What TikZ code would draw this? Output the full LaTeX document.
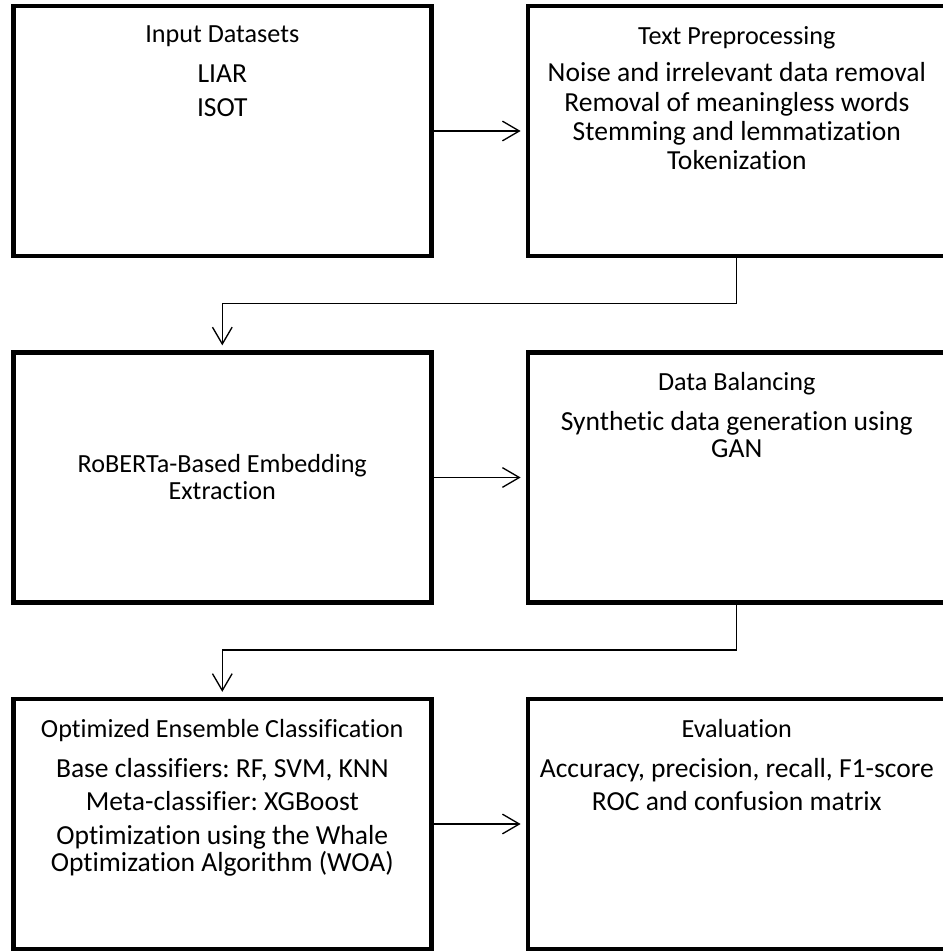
\documentclass[tikz,border=0pt]{standalone}
\usepackage{fontspec}
\setmainfont{Carlito}[Ligatures=NoCommon]
\usetikzlibrary{positioning,arrows.meta}
\frenchspacing
\newcommand{\stagetitle}[1]{{\fontsize{18.6pt}{19.2pt}\selectfont #1}}

\begin{document}
\begin{tikzpicture}[
    stage/.style={draw, line width=3.2pt, minimum width=10.45cm, minimum height=6.25cm, inner sep=0pt},
    body/.style={align=center, inner sep=0pt, font=\fontsize{19.6pt}{19.2pt}\selectfont},
    flow/.style={line width=0.95pt, -{Straight Barb[length=12pt,width=14pt]}, shorten >=3.5pt},
    node distance=2.3cm]
    \useasboundingbox (-5.5575,3.275) rectangle (18.0175,-20.5);
    % the six stages
    \node [stage] (input) at (0,0) {};
    \node [stage, right=of input] (prep) {};
    \node [stage, below=of input] (embed) {};
    \node [stage, right=of embed] (balance) {};
    \node [stage, below=of embed] (ensemble) {};
    \node [stage, right=of ensemble] (eval) {};
    % texts
    \node [body, below=0.55cm of input.north] (inputtxt) {\stagetitle{Input Datasets}\\[9.3pt] LIAR\\[4.6pt] ISOT};
    \node [body, below=0.55cm of prep.north] (preptxt) {\stagetitle{Text Preprocessing}\\[7.8pt] Noise and irrelevant data removal\\[1.6pt] Removal of meaningless words\\[1.6pt] Stemming and lemmatization\\[1.6pt] Tokenization};
    \node [body] (embedtxt) at (embed.center) {\stagetitle{RoBERTa-Based Embedding}\\ \stagetitle{Extraction}};
    \node [body, below=0.55cm of balance.north] (balancetxt) {\stagetitle{Data Balancing}\\[9.3pt] Synthetic data generation using\\ GAN};
    \node [body, below=0.55cm of ensemble.north] (ensembletxt) {\stagetitle{Optimized Ensemble Classification}\\[9.3pt] Base classifiers: RF, SVM, KNN\\[4.6pt] Meta-classifier: XGBoost\\[4.6pt] Optimization using the Whale\\ Optimization Algorithm (WOA)};
    \node [body, below=0.55cm of eval.north] (evaltxt) {\stagetitle{Evaluation}\\[9.3pt] Accuracy, precision, recall, F1-score\\[4.6pt] ROC and confusion matrix};
    % connectors
    \draw [flow] (input) -- (prep);
    \draw [flow] (prep.south) -- ++(0,-1.13) -| (embed.north);
    \draw [flow] (embed) -- (balance);
    \draw [flow] (balance.south) -- ++(0,-1.13) -| (ensemble.north);
    \draw [flow] (ensemble) -- (eval);
\end{tikzpicture}
\end{document}
